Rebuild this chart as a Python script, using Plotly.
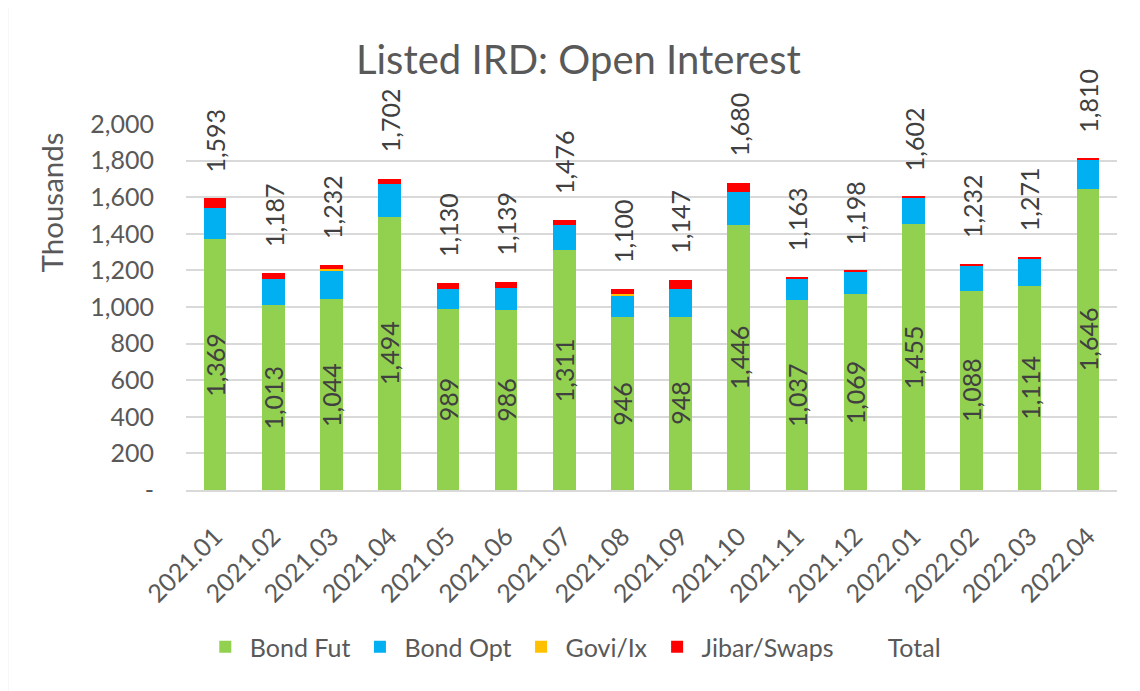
import plotly.graph_objects as go

categories = ["2021.01", "2021.02", "2021.03", "2021.04", "2021.05", "2021.06", "2021.07", "2021.08",
              "2021.09", "2021.10", "2021.11", "2021.12", "2022.01", "2022.02", "2022.03", "2022.04"]
bond_fut = [1369, 1013, 1044, 1494, 989, 986, 1311, 946, 948, 1446, 1037, 1069, 1455, 1088, 1114, 1646]
bond_opt = [170, 142, 154, 178, 108, 119, 135, 118, 149, 184, 121, 124, 141, 140, 152, 159]
govi_ix = [0, 0, 8, 0, 0, 0, 0, 7, 0, 0, 0, 0, 3, 0, 0, 0]
jibar_swaps = [54, 32, 26, 30, 33, 34, 30, 29, 50, 50, 5, 5, 3, 4, 5, 5]
totals = [1593, 1187, 1232, 1702, 1130, 1139, 1476, 1100, 1147, 1680, 1163, 1198, 1602, 1232, 1271, 1810]
y_ticks = [0, 200, 400, 600, 800, 1000, 1200, 1400, 1600, 1800, 2000]
y_tick_text = ["-", "200", "400", "600", "800", "1,000", "1,200", "1,400", "1,600", "1,800", "2,000"]

FONT = "Lato"
TXT = "#595959"
LBL = "#404040"
GRID = "#D9D9D9"

fig = go.Figure()
series = [("Bond Fut", bond_fut, "#92D050"), ("Bond Opt", bond_opt, "#00B0F0"),
          ("Govi/Ix", govi_ix, "#FFC000"), ("Jibar/Swaps", jibar_swaps, "#FF0000")]
for name, vals, col in series:
    fig.add_trace(go.Bar(x=categories, y=vals, name=name, marker=dict(color=col, line=dict(width=0))))
fig.add_trace(go.Scatter(x=categories, y=totals, name="Total", mode="markers",
                         marker=dict(color="rgba(0,0,0,0)", size=12, symbol="square",
                                     line=dict(width=0)), hoverinfo="skip"))

annotations = []
for i, t in enumerate(totals):
    annotations.append(dict(x=i, y=t, xref="x", yref="y", text=f"{t:,}", textangle=-90,
                            showarrow=False, yanchor="bottom", xanchor="center", yshift=24,
                            font=dict(family=FONT, size=25, color=LBL)))
for i, v in enumerate(bond_fut):
    annotations.append(dict(x=i, y=v / 2, xref="x", yref="y", text=f"{v:,}", textangle=-90,
                            showarrow=False, yanchor="middle", xanchor="center",
                            font=dict(family=FONT, size=25, color=LBL)))
annotations.append(dict(x=-0.144, y=0.7855, xref="paper", yref="paper", text="Thousands",
                        textangle=-90, showarrow=False, xanchor="center", yanchor="middle",
                        font=dict(family=FONT, size=29.5, color=TXT)))

fig.update_layout(
    width=1140, height=691,
    barmode="stack", bargap=0.61,
    paper_bgcolor="white", plot_bgcolor="white",
    margin=dict(l=178, r=31, t=116, b=209, autoexpand=False),
    title=dict(text="Listed IRD: Open Interest", x=0.5004, xanchor="center", xref="container",
               y=0.925, yanchor="middle", yref="container",
               font=dict(family=FONT, size=40, color=TXT)),
    font=dict(family=FONT, color=TXT),
    showlegend=True,
    legend=dict(orientation="h", x=0.416, xanchor="center", y=-0.429, yanchor="middle",
                traceorder="normal", font=dict(family=FONT, size=25, color=TXT),
                itemwidth=39, bgcolor="rgba(0,0,0,0)"),
    annotations=annotations,
    shapes=[dict(type="rect", xref="paper", yref="paper", x0=-0.1923, x1=1.05, y0=-0.6, y1=1.325,
                 line=dict(color=GRID, width=2.5), fillcolor="rgba(0,0,0,0)", layer="below")],
)
fig.update_xaxes(type="category", range=[-0.5, len(categories) - 0.5], tickangle=-45,
                 showgrid=False, showline=True, linecolor=GRID,
                 linewidth=2, ticks="", tickfont=dict(family=FONT, size=25, color=TXT),
                 ticklabelstandoff=20)
fig.update_yaxes(range=[0, 2000], tickvals=y_ticks, ticktext=y_tick_text, showgrid=True,
                 gridcolor=GRID, gridwidth=2, zeroline=False, showline=False, ticks="",
                 tickfont=dict(family=FONT, size=25, color=TXT), ticklabelstandoff=31)

fig.write_html("out.html")
